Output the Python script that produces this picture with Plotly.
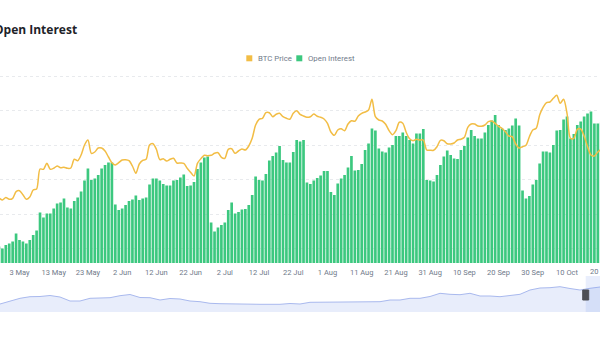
import pandas as pd
import plotly.graph_objects as go

# ---- data -------------------------------------------------------------
days = pd.date_range("2024-04-27", periods=177, freq="D")

open_interest = [  # USD bn
    7.33,
    7.29, 7.36, 7.39, 7.43, 7.59, 7.46, 7.43, 7.39, 7.46, 7.56,
    7.65, 8.01, 7.91, 7.99, 7.99, 8.09, 8.19, 8.21, 8.29, 8.11,
    8.09, 8.24, 8.31, 8.43, 8.65, 8.89, 8.66, 8.69, 8.76, 8.89,
    8.96, 9.01, 9.01, 8.17, 8.06, 8.09, 8.16, 8.24, 8.27, 8.35,
    8.26, 8.29, 8.31, 8.57, 8.69, 8.69, 8.65, 8.58, 8.55, 8.55,
    8.65, 8.66, 8.71, 8.77, 8.54, 8.55, 8.62, 8.88, 9.01, 9.11,
    9.13, 7.81, 7.63, 7.71, 7.76, 7.81, 8.06, 8.21, 7.99, 8.02,
    8.07, 8.08, 8.16, 8.36, 8.73, 8.66, 8.65, 8.78, 9.05, 9.14,
    9.21, 9.34, 9.06, 9.01, 9.01, 9.22, 9.46, 9.43, 9.46, 8.61,
    8.58, 8.65, 8.70, 8.75, 8.84, 8.84, 8.42, 8.36, 8.59, 8.69,
    8.76, 8.91, 9.14, 8.85, 8.86, 8.98, 9.26, 9.39, 9.69, 9.65,
    9.29, 9.23, 9.21, 9.31, 9.36, 9.54, 9.54, 9.61, 9.54, 9.46,
    9.39, 9.59, 9.59, 9.68, 8.66, 8.65, 8.63, 8.76, 8.96, 9.13,
    9.25, 9.16, 9.09, 9.08, 9.26, 9.34, 9.51, 9.66, 9.54, 9.49,
    9.49, 9.61, 9.76, 9.85, 9.96, 9.76, 9.69, 9.66, 9.69, 9.75,
    9.89, 9.75, 8.45, 8.29, 8.34, 8.57, 8.66, 8.99, 9.23, 9.23,
    9.21, 9.36, 9.65, 9.66, 9.87, 9.93, 9.49, 9.58, 9.76, 9.83,
    9.93, 9.99, 10.03, 9.79, 9.79, 9.81,
]

btc_price = [  # USD
    57750,
    57450, 57825, 57555, 57705, 58695, 58845, 58245, 57555, 57900, 58950,
    59100, 62100, 62055, 62955, 62055, 62205, 62550, 62295, 62355, 62205,
    62250, 63555, 63345, 64200, 65700, 66450, 64455, 64650, 65250, 65250,
    64800, 63900, 63045, 62700, 63045, 63450, 63495, 63345, 62550, 61455,
    62850, 63405, 63555, 65700, 65895, 65055, 63495, 63645, 63300, 63555,
    63705, 63000, 63000, 62955, 62205, 61605, 61050, 62955, 63645, 64155,
    64095, 64155, 64455, 64545, 63855, 63705, 65055, 65145, 64455, 64800,
    65100, 64950, 65550, 66705, 68700, 69555, 69705, 70545, 70545, 69945,
    70305, 70455, 69945, 69705, 69555, 70455, 70845, 70305, 70050, 69855,
    69945, 70350, 70005, 69855, 69600, 68955, 67650, 67155, 67950, 68145,
    67845, 68850, 69345, 69255, 70050, 70455, 70650, 70950, 72555, 69945,
    69450, 69300, 68805, 67845, 67245, 67845, 69105, 68955, 67605, 66645,
    66345, 66555, 66450, 66450, 64950, 64905, 64905, 65445, 66405, 66345,
    65895, 65850, 66000, 66450, 66555, 66855, 68355, 68850, 68850, 68550,
    68505, 68700, 69195, 69300, 68955, 68505, 68205, 67695, 67050, 66945,
    65850, 65250, 65445, 65655, 66945, 67950, 68205, 70200, 71355, 72045,
    72150, 72705, 73155, 71955, 72555, 70455, 66705, 66705, 68055, 68100,
    67050, 65445, 64200, 64050, 64650, 65055,
]

tick_days = pd.date_range("2024-05-03", "2024-10-10", freq="10D")
tick_labels = [f"{d.day} {d.strftime('%b')}" for d in tick_days]

# overview series shown in the zoom slider (bi-weekly samples)
overview_days = pd.date_range("2022-01-28", periods=61, freq="14D")
overview_values = [
    8, 11, 13.7, 15.3, 15.5, 16.5, 15, 11, 11, 13.7,
    14.3, 14.3, 16.3, 17.5, 14.5, 14.3, 12, 13.5, 13, 11,
    10.3, 8.7, 8.3, 8, 7.8, 7.7, 7.7, 7.7, 7.7, 8.5,
    8, 9.7, 9.7, 9.7, 10.3, 10.3, 10.3, 10.3, 10.3, 12,
    12, 13.7, 13.7, 15.5, 18.7, 17.7, 17.3, 18.7, 16, 16,
    15.3, 16.5, 17.7, 22, 24, 24.3, 25.3, 23.5, 22, 23.7, 25,
]
window_start = "2024-04-27"

# ---- styling ----------------------------------------------------------
W, H = 600, 337
GREEN = "#3cc87f"
YELLOW = "#f2bd45"
GREY_TEXT = "#707a8a"
SMALL_FONT = dict(family="Roboto, Arial, sans-serif", size=7.5, color=GREY_TEXT)


def py(px):
    """pixel row -> paper y"""
    return 1 - px / H


main_domain = [py(263), py(73)]
slider_domain = [py(312), py(276)]

fig = go.Figure()

fig.add_trace(go.Bar(
    x=days, y=open_interest, name="Open Interest",
    marker=dict(color=GREEN, line=dict(width=0)),
    xaxis="x", yaxis="y",
))
fig.add_trace(go.Scatter(
    x=days, y=btc_price, name="BTC Price", mode="lines",
    line=dict(color=YELLOW, width=1.5, shape="spline", smoothing=0.8),
    xaxis="x", yaxis="y2",
))
fig.add_trace(go.Scatter(
    x=overview_days, y=overview_values, mode="lines", name="overview",
    line=dict(color="#a9b9ee", width=1), fill="tozeroy", fillcolor="#e8edfb",
    xaxis="x2", yaxis="y3", hoverinfo="skip",
))

oi_grid = [7.29, 7.98, 8.67, 9.36, 10.05, 10.74]

fig.update_layout(
    width=W, height=H,
    margin=dict(l=0, r=0, t=0, b=0),
    paper_bgcolor="white", plot_bgcolor="white",
    showlegend=False,
    bargap=0.22,
    xaxis=dict(
        domain=[0, 1], anchor="y",
        range=["2024-04-27 07:15", "2024-10-19 15:20"],
        tickvals=tick_days, ticktext=tick_labels,
        tickfont=SMALL_FONT, ticks="outside", ticklen=2, tickcolor="rgba(0,0,0,0)",
        showgrid=False, zeroline=False, showline=False, automargin=False,
    ),
    yaxis=dict(
        domain=main_domain, range=[7.0, 10.80],
        tickvals=oi_grid, showticklabels=False,
        gridcolor="#e8eaed", griddash="3px,3px", gridwidth=1,
        zeroline=False, showline=False, automargin=False,
    ),
    yaxis2=dict(
        overlaying="y", side="right", range=[48000, 76500],
        showgrid=False, showticklabels=False, zeroline=False, automargin=False,
    ),
    xaxis2=dict(
        domain=[0, 1], anchor="y3",
        range=[overview_days[0], overview_days[-1]], visible=False,
    ),
    yaxis3=dict(domain=slider_domain, range=[0, 36], visible=False),
)

shapes = [
    # selected window in the slider
    dict(type="rect", xref="x2", yref="paper", x0=window_start, x1=overview_days[-1],
         y0=slider_domain[0], y1=slider_domain[1],
         fillcolor="rgba(120,150,235,0.16)", line=dict(width=0), layer="above"),
    # slider handle
    dict(type="rect", xref="x2", yref="paper", xsizemode="pixel", xanchor=window_start,
         x0=-3, x1=3, y0=py(300), y1=py(290),
         fillcolor="#4d4f55", line=dict(color="#4d4f55", width=1), layer="above"),
    # legend swatches
    dict(type="rect", xref="paper", yref="paper", x0=246.3 / W, x1=252.3 / W,
         y0=py(61.3), y1=py(55.3), fillcolor=YELLOW, line=dict(width=0)),
    dict(type="rect", xref="paper", yref="paper", x0=296.3 / W, x1=302.3 / W,
         y0=py(61.3), y1=py(55.3), fillcolor=GREEN, line=dict(width=0)),
]
fig.update_layout(shapes=shapes)

legend_font = dict(family="Roboto, Arial, sans-serif", size=7.8, color=GREY_TEXT)
annotations = [
    dict(text="<b>Open Interest</b>", xref="paper", yref="paper",
         x=-8 / W, y=py(29.5), xanchor="left", yanchor="middle", showarrow=False,
         font=dict(family="Open Sans, sans-serif", size=12, color="#1e2329")),
    dict(text="BTC Price", xref="paper", yref="paper", x=255.5 / W, y=py(58.3),
         xanchor="left", yanchor="middle", showarrow=False, font=legend_font),
    dict(text="Open Interest", xref="paper", yref="paper", x=305.5 / W, y=py(58.3),
         xanchor="left", yanchor="middle", showarrow=False, font=legend_font),
    # next date label, centred just past the right edge
    dict(text="20 Oct", xref="paper", yref="paper", x=601.2 / W, y=py(271.7),
         xanchor="center", yanchor="middle", showarrow=False, font=SMALL_FONT),
]
fig.update_layout(annotations=annotations)

fig.write_html("out.html")
